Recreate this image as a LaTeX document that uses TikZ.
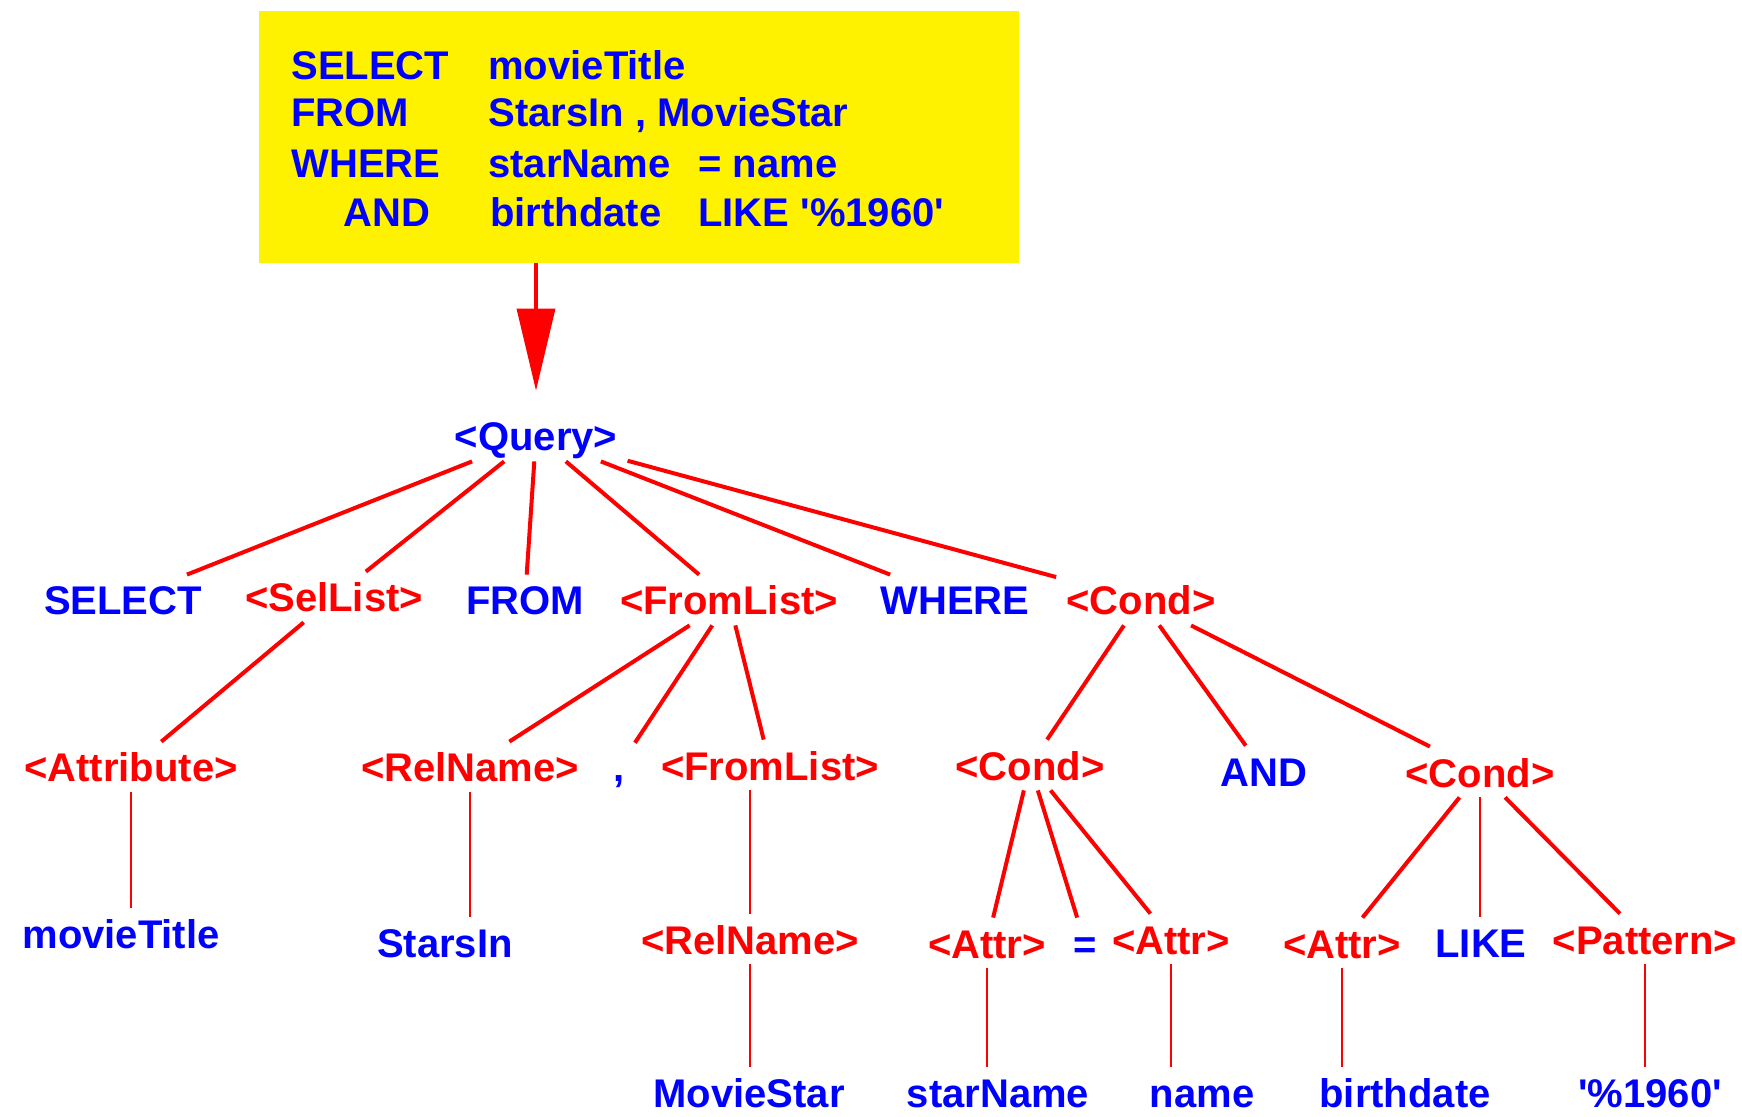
\documentclass[tikz,border=0pt]{standalone}
\usepackage{fontspec}
\setmainfont{Liberation Sans}
\usetikzlibrary{arrows.meta}

\begin{document}
\begin{tikzpicture}[x=0.5pt, y=-0.5pt,
    font=\fontsize{20}{24}\selectfont\bfseries,
    every node/.style={text height=15pt, text depth=0pt, inner sep=5pt},
    nt/.style={text=red},
    tm/.style={text=blue},
    sqltxt/.style={text=blue, inner sep=0pt, anchor=west},
    ast/.style={red, line width=2pt},
    leaf/.style={red, line width=0.8pt}]
    \useasboundingbox (0,0) rectangle (1742,1117);

    % Anfrage.
    \node[fill=yellow, minimum width=380pt, minimum height=126pt, inner sep=0pt] (sql) at (639,137) {};
    \node[sqltxt] (k1) at (291,65) {SELECT};
    \node[sqltxt] (v1) at (488,65) {movieTitle};
    \node[sqltxt] (k2) at (291,112) {FROM};
    \node[sqltxt] (v2) at (488,112) {StarsIn , MovieStar};
    \node[sqltxt] (k3) at (291,163) {WHERE};
    \node[sqltxt] (v3) at (488,163) {starName};
    \node[sqltxt] (w3) at (698,163) {= name};
    \node[sqltxt] (k4) at (343,212) {AND};
    \node[sqltxt] (v4) at (490,212) {birthdate};
    \node[sqltxt] (w4) at (698,212) {LIKE \textquotesingle\%1960\textquotesingle};

    % Baum.
    \node[tm] (q) at (536,436) {<Query>};

    \node[tm] (sel) at (123,600) {SELECT};
    \node[nt] (sl) at (334,597) {<SelList>};
    \node[tm] (frm) at (525,600) {FROM};
    \node[nt] (fl) at (729,600) {<FromList>};
    \node[tm] (whr) at (955,600) {WHERE};
    \node[nt] (cnd) at (1141,600) {<Cond>};

    \node[nt] (attrib) at (131,767) {<Attribute>};
    \node[nt] (rn1) at (470,767) {<RelName>};
    \node[tm] (comma) at (619,767) {,};
    \node[nt] (fl2) at (770,765) {<FromList>};
    \node[nt] (cnd1) at (1030,765) {<Cond>};
    \node[tm] (andkw) at (1264,771) {AND};
    \node[nt] (cnd2) at (1480,772) {<Cond>};

    \node[tm] (mt) at (121,933) {movieTitle};
    \node[tm] (si) at (445,942) {StarsIn};
    \node[nt] (rn2) at (750,939) {<RelName>};
    \node[nt] (a1) at (987,943) {<Attr>};
    \node[tm] (eq) at (1085,943) {=};
    \node[nt] (a2) at (1171,939) {<Attr>};
    \node[nt] (a3) at (1342,943) {<Attr>};
    \node[tm] (like) at (1481,942) {LIKE};
    \node[nt] (pat) at (1645,939) {<Pattern>};

    \node[tm] (ms) at (749,1092) {MovieStar};
    \node[tm] (sn) at (998,1092) {starName};
    \node[tm] (nm) at (1202,1092) {name};
    \node[tm] (bd) at (1405,1092) {birthdate};
    \node[tm] (pc) at (1650,1092) {\textquotesingle\%1960\textquotesingle};

    % Pfeil.
    \draw[red, line width=1.8pt, -{Triangle[length=41pt, width=19pt]}, shorten >=10pt]
        (sql.south -| q) -- (q.north);

    % Kanten.
    \foreach \c in {sel,sl,frm,fl,whr,cnd}
    {
        \draw[ast] (q) -- (\c);
    }
    \foreach \p/\c in {sl/attrib, fl/rn1, fl/comma, fl/fl2, cnd/cnd1, cnd/andkw, cnd/cnd2, cnd1/a1, cnd1/eq, cnd1/a2, cnd2/a3, cnd2/pat}
    {
        \draw[ast] (\p) -- (\c);
    }
    \foreach \p/\c in {attrib/mt, rn1/si, rn2/ms, a1/sn, a2/nm, a3/bd, cnd2/like, pat/pc}
    {
        \draw[leaf] (\p.south) -- (\p.south |- \c.north);
    }
    \draw[leaf] (rn2 |- fl2.south) -- (rn2.north);
\end{tikzpicture}
\end{document}
